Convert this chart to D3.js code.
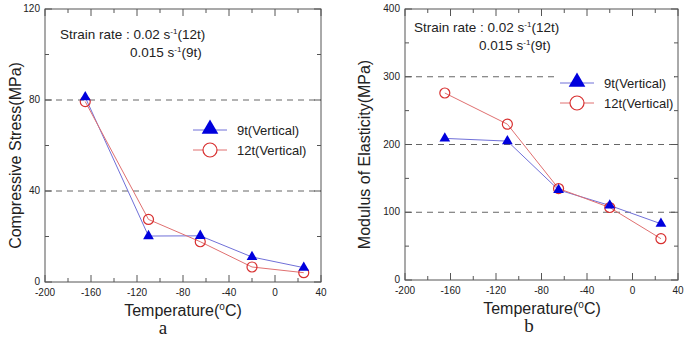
<!DOCTYPE html>
<html>
<head>
<meta charset="utf-8">
<script src="https://cdn.jsdelivr.net/npm/d3@7"></script>
<style>
  body { margin: 0; background: #fff; }
  text { font-family: "Liberation Sans", Arial, sans-serif; fill: #222; }
  text.letter { font-family: "Liberation Serif", "Times New Roman", serif; }
</style>
</head>
<body>
<div id="chart"></div>
<script>
// temperatures (deg C) shared by both panels
const temps = [-165, -110, -65, -20, 25];

// panel a: compressive stress (MPa)
const stress9t = [81.2, 20.2, 20.3, 11.0, 6.3];
const stress12t = [79.3, 27.5, 17.7, 6.6, 4.1];

// panel b: modulus of elasticity (MPa)
const modulus9t = [209, 205, 133, 110, 83];
const modulus12t = [276, 230, 135, 107, 61];

const xTicks = [-200, -160, -120, -80, -40, 0, 40];
const stressTicks = [0, 40, 80, 120];
const modulusTicks = [0, 100, 200, 300, 400];

const seriesNames = ["9t(Vertical)", "12t(Vertical)"];

const W = 685, H = 338;
const svg = d3.select("#chart").append("svg")
    .attr("width", W)
    .attr("height", H);

function panel(opt) {
    const x = d3.scaleLinear().domain([-200, 40]).range([opt.left, opt.right]);
    const y = d3.scaleLinear().domain([0, opt.yMax]).range([opt.bottom, opt.top]);
    const g = svg.append("g");

    // dashed grid lines
    g.selectAll(".grid")
        .data(opt.grid)
        .join("line")
        .attr("x1", opt.left).attr("x2", opt.right)
        .attr("y1", d => y(d)).attr("y2", d => y(d))
        .attr("stroke", "#666")
        .attr("stroke-width", 1)
        .attr("stroke-dasharray", "6,5");

    // frame
    g.append("rect")
        .attr("x", opt.left).attr("y", opt.top)
        .attr("width", opt.right - opt.left)
        .attr("height", opt.bottom - opt.top)
        .attr("fill", "none")
        .attr("stroke", "#555")
        .attr("stroke-width", 1);

    // inward ticks on all sides (major + minor)
    const xMinor = d3.range(-200, 41, 20);
    const yMinor = d3.range(0, opt.yMax + 1, opt.yStep / 2);
    const tickLen = (v, major) => major.includes(v) ? 7 : 4;
    xMinor.forEach(v => {
        const L = tickLen(v, xTicks);
        g.append("line").attr("x1", x(v)).attr("x2", x(v))
            .attr("y1", opt.bottom).attr("y2", opt.bottom - L).attr("stroke", "#555");
        g.append("line").attr("x1", x(v)).attr("x2", x(v))
            .attr("y1", opt.top).attr("y2", opt.top + L).attr("stroke", "#555");
    });
    yMinor.forEach(v => {
        const L = tickLen(v, opt.yTicks);
        g.append("line").attr("x1", opt.left).attr("x2", opt.left + L)
            .attr("y1", y(v)).attr("y2", y(v)).attr("stroke", "#555");
        g.append("line").attr("x1", opt.right).attr("x2", opt.right - L)
            .attr("y1", y(v)).attr("y2", y(v)).attr("stroke", "#555");
    });

    // tick labels
    g.selectAll(".xl")
        .data(xTicks)
        .join("text")
        .attr("x", d => x(d))
        .attr("y", opt.bottom + 14)
        .attr("text-anchor", "middle")
        .attr("font-size", 10)
        .text(d => d);
    g.selectAll(".yl")
        .data(opt.yTicks)
        .join("text")
        .attr("x", opt.left - 5)
        .attr("y", d => y(d) + 3)
        .attr("text-anchor", "end")
        .attr("font-size", 10)
        .text(d => d);

    // axis titles
    const xt = g.append("text")
        .attr("x", opt.xTitleX)
        .attr("y", opt.bottom + 34)
        .attr("text-anchor", "middle")
        .attr("font-size", 16);
    xt.append("tspan").text("Temperature(");
    xt.append("tspan").attr("font-size", 10).attr("dy", -6).text("o");
    xt.append("tspan").attr("dy", 6).text("C)");

    g.append("text")
        .attr("transform", `translate(${opt.yTitleX},${(opt.top + opt.bottom) / 2 + 10}) rotate(-90)`)
        .attr("text-anchor", "middle")
        .attr("font-size", 16)
        .text(opt.yTitle);

    g.append("text")
        .attr("class", "letter")
        .attr("x", opt.letterX)
        .attr("y", opt.bottom + 52)
        .attr("text-anchor", "middle")
        .attr("font-size", 19)
        .text(opt.letter);

    // strain rate note
    const n1 = g.append("text").attr("x", opt.noteX).attr("y", opt.noteY).attr("font-size", 13.5);
    n1.append("tspan").text("Strain rate : 0.02 s");
    n1.append("tspan").attr("font-size", 8).attr("dy", -5).text("-1");
    n1.append("tspan").attr("dy", 5).text("(12t)");
    const n2 = g.append("text").attr("x", opt.noteX + opt.note2Dx).attr("y", opt.noteY + 18).attr("font-size", 13.5);
    n2.append("tspan").text("0.015 s");
    n2.append("tspan").attr("font-size", 8).attr("dy", -5).text("-1");
    n2.append("tspan").attr("dy", 5).text("(9t)");

    // legend
    const lg = g.append("g").attr("transform", `translate(${opt.legX},${opt.legY})`);
    lg.append("rect").attr("x", -4).attr("y", -10).attr("width", opt.right - opt.legX).attr("height", 34)
        .attr("fill", "#fff");
    [0, 1].forEach(i => {
        const yy = i * 20;
        lg.append("line").attr("x1", 0).attr("x2", 34).attr("y1", yy).attr("y2", yy)
            .attr("stroke", i === 0 ? "#7070d8" : "#e07070").attr("stroke-width", 1);
        if (i === 0) {
            lg.append("path")
                .attr("d", d3.symbol(d3.symbolTriangle, 120)())
                .attr("transform", `translate(17,${yy - 1})`)
                .attr("fill", "#0000dd");
        } else {
            lg.append("circle").attr("cx", 17).attr("cy", yy).attr("r", 7)
                .attr("fill", "#fff").attr("stroke", "#d83030").attr("stroke-width", 1.2);
        }
        lg.append("text").attr("x", 44).attr("y", yy + 5).attr("font-size", 13).text(seriesNames[i]);
    });

    // series
    const line = d3.line().x((d, i) => x(temps[i])).y(d => y(d));
    g.append("path").datum(opt.s9)
        .attr("d", line).attr("fill", "none").attr("stroke", "#7070d8").attr("stroke-width", 1);
    g.append("path").datum(opt.s12)
        .attr("d", line).attr("fill", "none").attr("stroke", "#e07070").attr("stroke-width", 1);

    g.selectAll(".c12").data(opt.s12).join("circle")
        .attr("cx", (d, i) => x(temps[i]))
        .attr("cy", d => y(d))
        .attr("r", 5)
        .attr("fill", "none")
        .attr("stroke", "#d83030")
        .attr("stroke-width", 1.2);
    g.selectAll(".t9").data(opt.s9).join("path")
        .attr("d", d3.symbol(d3.symbolTriangle, 50)())
        .attr("transform", (d, i) => `translate(${x(temps[i])},${y(d)})`)
        .attr("fill", "#0000dd");
}

panel({
    left: 45, right: 321, top: 9, bottom: 282,
    yMax: 120, yStep: 40, yTicks: stressTicks, grid: [40, 80],
    s9: stress9t, s12: stress12t,
    yTitle: "Compressive Stress(MPa)", yTitleX: 21,
    xTitleX: 183, letter: "a", letterX: 163,
    noteX: 60, noteY: 39, note2Dx: 70,
    legX: 193, legY: 130
});

panel({
    left: 405, right: 678, top: 9, bottom: 280,
    yMax: 400, yStep: 100, yTicks: modulusTicks, grid: [100, 200, 300],
    s9: modulus9t, s12: modulus12t,
    yTitle: "Modulus of Elasticity(MPa)", yTitleX: 370,
    xTitleX: 542, letter: "b", letterX: 529,
    noteX: 414, noteY: 32, note2Dx: 65,
    legX: 560, legY: 83
});
</script>
</body>
</html>
